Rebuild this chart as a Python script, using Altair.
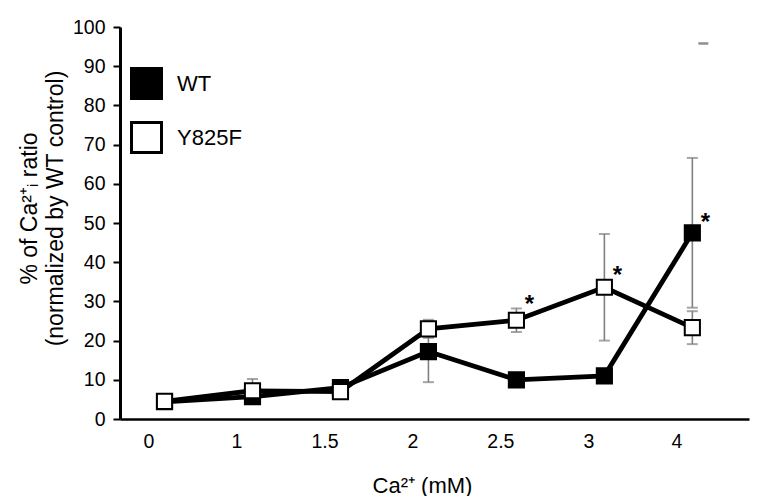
import altair as alt
import pandas as pd

conc = ["0", "1", "1.5", "2", "2.5", "3", "4"]
wt_mean = [4.4, 5.7, 8.0, 17.2, 10.0, 11.0, 47.5]
wt_err = [0.5, 1.0, 1.0, 7.8, 1.0, 1.0, 19.1]
mut_mean = [4.5, 7.2, 7.0, 23.0, 25.2, 33.6, 23.3]
mut_err = [0.5, 3.0, 1.2, 2.3, 3.0, 13.6, 4.2]
star_conc = ["2.5", "3", "4"]
star_y = [29.2, 36.4, 50.0]
stray_conc = ["4"]
stray_y = [95.8]
y_ticks = [0, 10, 20, 30, 40, 50, 60, 70, 80, 90, 100]

series = ["WT", "Y825F"]
rows = []
for name, means, errs in [("WT", wt_mean, wt_err), ("Y825F", mut_mean, mut_err)]:
    for c, m, e in zip(conc, means, errs):
        rows.append({"conc": c, "series": name, "mean": m, "lo": m - e, "hi": m + e})
df = pd.DataFrame(rows)
stars = pd.DataFrame({"conc": star_conc, "y": star_y, "t": ["*"] * len(star_y)})
stray = pd.DataFrame({"conc": stray_conc, "y": stray_y})

FONT = "Liberation Sans"

xscale = alt.Scale(type="point", domain=conc, padding=0.575, align=0.44)
yscale = alt.Scale(domain=[0, 100])

x_axis = alt.Axis(title="Ca²⁺ (mM)", labelAngle=0, ticks=False,
                  labelOffset=-16, labelPadding=13, titleFontSize=22,
                  titleX=302, titleY=66, titleBaseline="middle")
y_axis = alt.Axis(title=["% of Ca²⁺ᵢ ratio", "(normalized by WT control)"],
                  values=y_ticks, tickCount=11, labelOverlap=False,
                  tickSize=7, tickWidth=2, labelPadding=8, titlePadding=5,
                  titleFontSize=23, titleLineHeight=26, titleY=181,
                  domainWidth=3)

x = alt.X("conc:O", scale=xscale, sort=conc, axis=x_axis)

base = alt.Chart(df)

err_rule = base.mark_rule(color="#808080", strokeWidth=1.6).encode(
    x=x, y=alt.Y("lo:Q", scale=yscale, axis=y_axis), y2="hi:Q")
cap_lo = base.mark_tick(color="#808080", size=11, thickness=2).encode(
    x=x, y=alt.Y("lo:Q", scale=yscale, axis=y_axis))
cap_hi = base.mark_tick(color="#808080", size=11, thickness=2).encode(
    x=x, y=alt.Y("hi:Q", scale=yscale, axis=y_axis))
lines = base.mark_line(color="black", strokeWidth=4.8).encode(
    x=x, y=alt.Y("mean:Q", scale=yscale, axis=y_axis), detail="series:N")
points = base.mark_square(stroke="black", strokeWidth=2, size=230, opacity=1).encode(
    x=x, y=alt.Y("mean:Q", scale=yscale, axis=y_axis),
    fill=alt.Fill("series:N", scale=alt.Scale(domain=series, range=["black", "white"]),
                  legend=alt.Legend(title=None, orient="none", legendX=10, legendY=40,
                                    symbolType="square", symbolSize=900,
                                    symbolStrokeColor="black", symbolStrokeWidth=3,
                                    symbolOpacity=1, labelOffset=14, rowPadding=11,
                                    padding=0)))
star_layer = alt.Chart(stars).mark_text(fontSize=24, font=FONT, fontWeight="bold",
                                        dx=13, baseline="middle", color="black").encode(
    x=x, y=alt.Y("y:Q", scale=yscale, axis=y_axis), text="t:N")
stray_layer = alt.Chart(stray).mark_tick(color="#606060", size=10, thickness=2.5,
                                         xOffset=11).encode(
    x=x, y=alt.Y("y:Q", scale=yscale, axis=y_axis))

chart = alt.layer(err_rule, cap_lo, cap_hi, lines, points, star_layer, stray_layer).properties(
    width=629, height=392,
    autosize=alt.AutoSizeParams(type="none"),
    padding={"left": 112, "top": 19, "right": 10, "bottom": 77},
).configure(font=FONT).configure_view(stroke=None).configure_axis(
    labelFontSize=19.5, titleFontSize=20, titleFontWeight="normal",
    labelColor="black", titleColor="black", domainColor="black",
    tickColor="black", grid=False, labelFont=FONT, titleFont=FONT,
).configure_axisX(domainWidth=2.5).configure_legend(
    labelFontSize=22, labelColor="black", labelFont=FONT,
)

chart.save("out.html", embed_options={"renderer": "svg", "actions": False})
